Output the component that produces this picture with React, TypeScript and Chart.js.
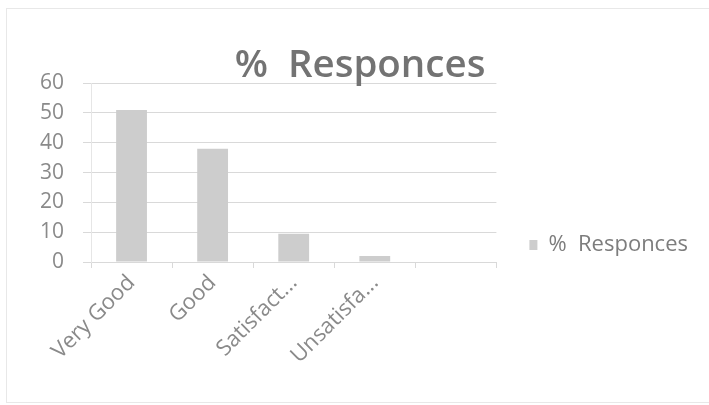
import React, { useEffect, useRef } from "react";
import { Chart, registerables } from "chart.js";

Chart.register(...registerables);

const categories = ["Very Good", "Good", "Satisfact...", "Unsatisfa...", ""];
const responses = [51, 38, 9.5, 2, null];
const seriesName = "%  Responces";
const chartTitle = "%  Responces";

const FONT = "'Open Sans', Lato, sans-serif";

export default function App() {
  const ref = useRef<HTMLCanvasElement | null>(null);

  useEffect(() => {
    document.body.style.margin = "0";
    const ctx = ref.current!;
    const chart = new Chart(ctx, {
      type: "bar",
      data: {
        labels: categories,
        datasets: [
          {
            label: seriesName,
            data: responses,
            backgroundColor: "#cdcdcd",
            borderWidth: 0,
            barPercentage: 0.38,
            categoryPercentage: 1,
          },
        ],
      },
      options: {
        responsive: false,
        animation: false,
        layout: { padding: { left: 22, right: 11, top: 43, bottom: 0 } },
        plugins: {
          title: {
            display: true,
            text: chartTitle,
            color: "#737373",
            font: { family: FONT, size: 38.5, weight: 600 },
            padding: { top: 0, bottom: -6 },
          },
          legend: {
            position: "right",
            maxWidth: 400,
            title: {
              display: true,
              text: "",
              font: { size: 12 },
              padding: { top: 0, bottom: 27.6 },
            },
            labels: {
              color: "#7d7d7d",
              font: { family: FONT, size: 22 },
              boxWidth: 8,
              boxHeight: 10,
              padding: 33,
            },
          },
          tooltip: { enabled: false },
        },
        scales: {
          x: {
            grid: {
              offset: true,
              drawOnChartArea: false,
              drawTicks: true,
              tickLength: 6,
              color: "#d9d9d9",
            },
            border: { display: true, color: "#d9d9d9" },
            ticks: {
              color: "#8a8a8a",
              font: { family: FONT, size: 22 },
              maxRotation: 45,
              minRotation: 45,
              autoSkip: false,
              padding: 2,
            },
            afterFit: (scale: any) => {
              scale.height = 143;
            },
          },
          y: {
            min: 0,
            max: 60,
            ticks: {
              stepSize: 10,
              color: "#8a8a8a",
              font: { family: FONT, size: 21 },
              padding: 19,
            },
            grid: { color: "#d9d9d9", tickLength: 8 },
            border: { display: true, color: "#e6e6e6" },
            afterFit: (scale: any) => {
              scale.width = 69;
            },
          },
        },
      },
    });
    return () => chart.destroy();
  }, []);

  return (
    <div style={{ position: "fixed", left: 0, top: 0, width: 709, height: 405, background: "#fff" }}>
      <canvas ref={ref} width={709} height={405} style={{ display: "block" }} />
      <div
        style={{
          position: "absolute",
          left: 6,
          top: 8,
          width: 710,
          height: 393,
          border: "1px solid #e8e8e8",
          pointerEvents: "none",
        }}
      />
    </div>
  );
}
